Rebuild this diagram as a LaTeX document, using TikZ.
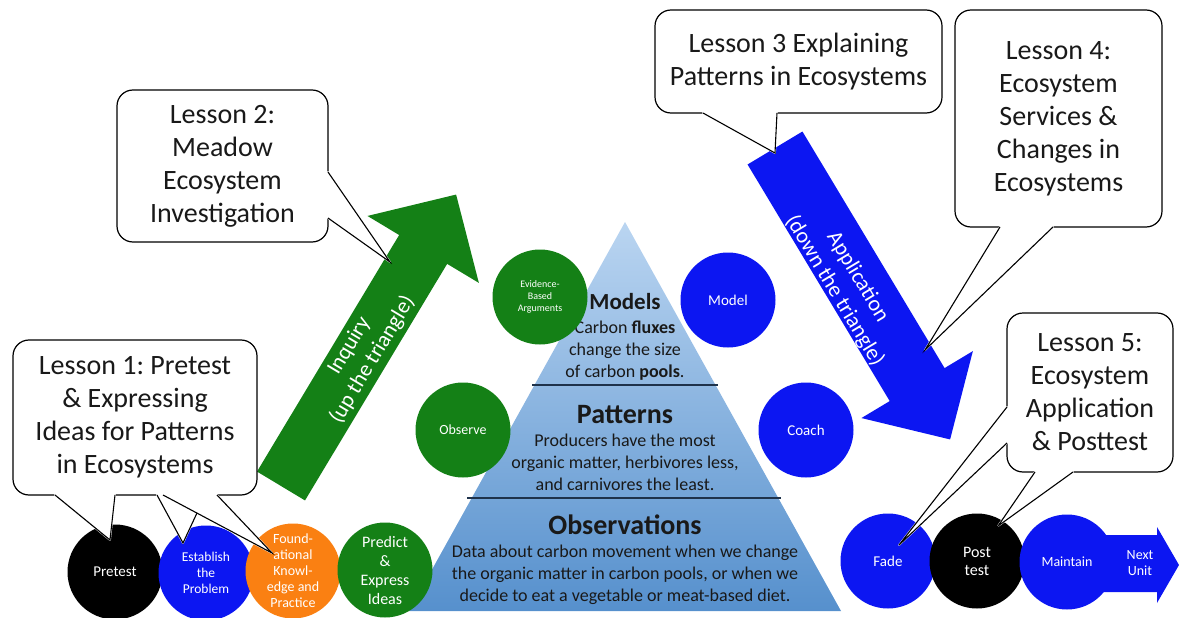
\documentclass[tikz,border=0pt]{standalone}
\usepackage{fontspec}
\setmainfont{Carlito}
\usepackage{tikz}
\frenchspacing

\definecolor{stagegreen}{RGB}{20,128,22}
\definecolor{stageblue}{RGB}{12,22,242}
\definecolor{stageorange}{RGB}{250,128,18}
\definecolor{tritop}{RGB}{186,213,241}
\definecolor{tribot}{RGB}{86,144,205}
\definecolor{tierblue}{RGB}{30,50,75}

\newcommand\lessonfont{\fontsize{28}{33}\selectfont}
\newcommand\tierfont{\fontsize{18}{22}\selectfont}

\tikzset{
  lesson/.style={draw, line width=1.2pt, fill=white, rounded corners=16pt, align=center, font=\lessonfont, inner sep=0pt, text=black!90},
  tailfill/.style={fill=white, draw=white, line width=1.8pt, line join=round},
  tailline/.style={draw, line width=1.1pt},
  stage/.style={circle, minimum size=95pt, inner sep=0pt, align=center, text=white, font=\fontsize{15}{18}\selectfont},
  tierline/.style={draw=tierblue, line width=2.2pt},
  tiertitle/.style={text=black!90, font=\fontsize{28}{32}\selectfont\bfseries},
  tiertext/.style={text=black!90, align=center, font=\tierfont},
  arrowtext/.style={text=white, align=center, font=\fontsize{22}{27}\selectfont}
}

\begin{document}
\begin{tikzpicture}[x=1pt, y=-1pt]
\useasboundingbox (0,0) rectangle (1179,618);

% pyramid
\shade[top color=tritop, bottom color=tribot] (625,222) -- (841,611) -- (409,611) -- cycle;
\draw[tierline] (532,385) -- (718,385);
\draw[tierline] (467,498) -- (781,498);

\node (models) at (625,302) [tiertitle, font=\fontsize{23}{27}\selectfont\bfseries] {Models};
\node (modelstext) at (625,351) [tiertext] {Carbon \textbf{fluxes}\\change the size\\of carbon \textbf{pools}.};
\node (patterns) at (625,415) [tiertitle] {Patterns};
\node (patternstext) at (625,462) [tiertext] {Producers have the most\\organic matter, herbivores less,\\and carnivores the least.};
\node (observations) at (625,525) [tiertitle] {Observations};
\node (observationstext) at (625,575) [tiertext] {Data about carbon movement when we change\\the organic matter in carbon pools, or when we\\decide to eat a vegetable or meat-based diet.};

% inquiry / application arrows
\begin{scope}[shift={(281,486)}, rotate=59]
  \fill[stagegreen] (0,-28) -- (276,-28) -- (276,-65) -- (340,0) -- (276,65) -- (276,28) -- (0,28) -- cycle;
\end{scope}
\node (inquiry) at (361,353) [rotate=59, arrowtext] {Inquiry\\(up the triangle)};

\begin{scope}[shift={(775,148)}, rotate=-59]
  \fill[stageblue] (0,-32) -- (276,-32) -- (276,-65) -- (340,0) -- (276,65) -- (276,32) -- (0,32) -- cycle;
\end{scope}
\node (application) at (846,284) [rotate=-59, arrowtext] {Application\\(down the triangle)};

% stages
\node (evidence) at (540,297) [stage, fill=stagegreen, font=\fontsize{10}{12}\selectfont] {Evidence-\\Based\\Arguments};
\node (observe) at (463,430) [stage, fill=stagegreen, font=\fontsize{14}{17}\selectfont] {Observe};
\node (model) at (728,300) [stage, fill=stageblue] {Model};
\node (coach) at (806,430) [stage, fill=stageblue] {Coach};

\node (pretest) at (115,572) [stage, fill=black] {Pretest};
\node (establish) at (206,573) [stage, fill=stageblue, font=\fontsize{13.5}{16}\selectfont] {Establish\\the\\Problem};
\node (found) at (293,571) [stage, fill=stageorange, font=\fontsize{14}{16}\selectfont] {Found-\\ational\\Knowl-\\edge and\\Practice};
\node (predict) at (385,570) [stage, fill=stagegreen, font=\fontsize{16}{19}\selectfont] {Predict\\\&\\Express\\Ideas};

\node (fade) at (888,561) [stage, fill=stageblue] {Fade};
\node (posttest) at (977,561) [stage, fill=black, font=\fontsize{16}{18}\selectfont] {Post\\test};
\fill[stageblue] (1090,535) -- (1157,535) -- (1157,527) -- (1179,565) -- (1157,603) -- (1157,592) -- (1090,592) -- cycle;
\node (maintain) at (1067,562) [stage, fill=stageblue, font=\fontsize{14}{17}\selectfont] {Maintain};
\node (nextunit) at (1140,563) [text=white, align=center, font=\fontsize{14}{16}\selectfont] {Next\\Unit};

% lessons
\node (lesson1) at (135,417.5) [lesson, minimum width=244pt, minimum height=155pt] {Lesson 1: Pretest\\\& Expressing\\Ideas for Patterns\\in Ecosystems};
\node (lesson2) at (222.5,166) [lesson, minimum width=211pt, minimum height=152pt] {Lesson 2:\\Meadow\\Ecosystem\\Investigation};
\node (lesson3) at (798.5,61.5) [lesson, minimum width=287pt, minimum height=103pt] {Lesson 3 Explaining\\Patterns in Ecosystems};
\node (lesson4) at (1058.5,118.5) [lesson, minimum width=207pt, minimum height=217pt] {Lesson 4:\\Ecosystem\\Services \&\\Changes in\\Ecosystems};
\node (lesson5) at (1090,392.5) [lesson, minimum width=166pt, minimum height=159pt] {Lesson 5:\\Ecosystem\\Application\\\& Posttest};

% callout tails
\foreach \a/\t/\b in {{55,495}/{110,540}/{115,495}, {163,495}/{272,553}/{217,495},
                      {328,172}/{390,262}/{328,218}, {703,113}/{775,153}/{777,113},
                      {1000,227}/{925,350}/{1053,227}, {1007,407}/{899,545}/{1007,443},
                      {1035,472}/{998,526}/{1073,472}}
  \filldraw[tailfill] (\a) -- (\t) -- (\b) -- cycle;
\filldraw[tailfill] (157,495) -- (183,543) -- (197,513) -- (163,495) -- cycle;
\foreach \a/\t/\b in {{55,495}/{110,540}/{115,495}, {163,495}/{272,553}/{217,495},
                      {328,172}/{390,262}/{328,218}, {703,113}/{775,153}/{777,113},
                      {1000,227}/{925,350}/{1053,227}, {1007,407}/{899,545}/{1007,443},
                      {1035,472}/{998,526}/{1073,472}, {157,495}/{183,543}/{197,513}}
  \draw[tailline] (\a) -- (\t) -- (\b);
\end{tikzpicture}
\end{document}
